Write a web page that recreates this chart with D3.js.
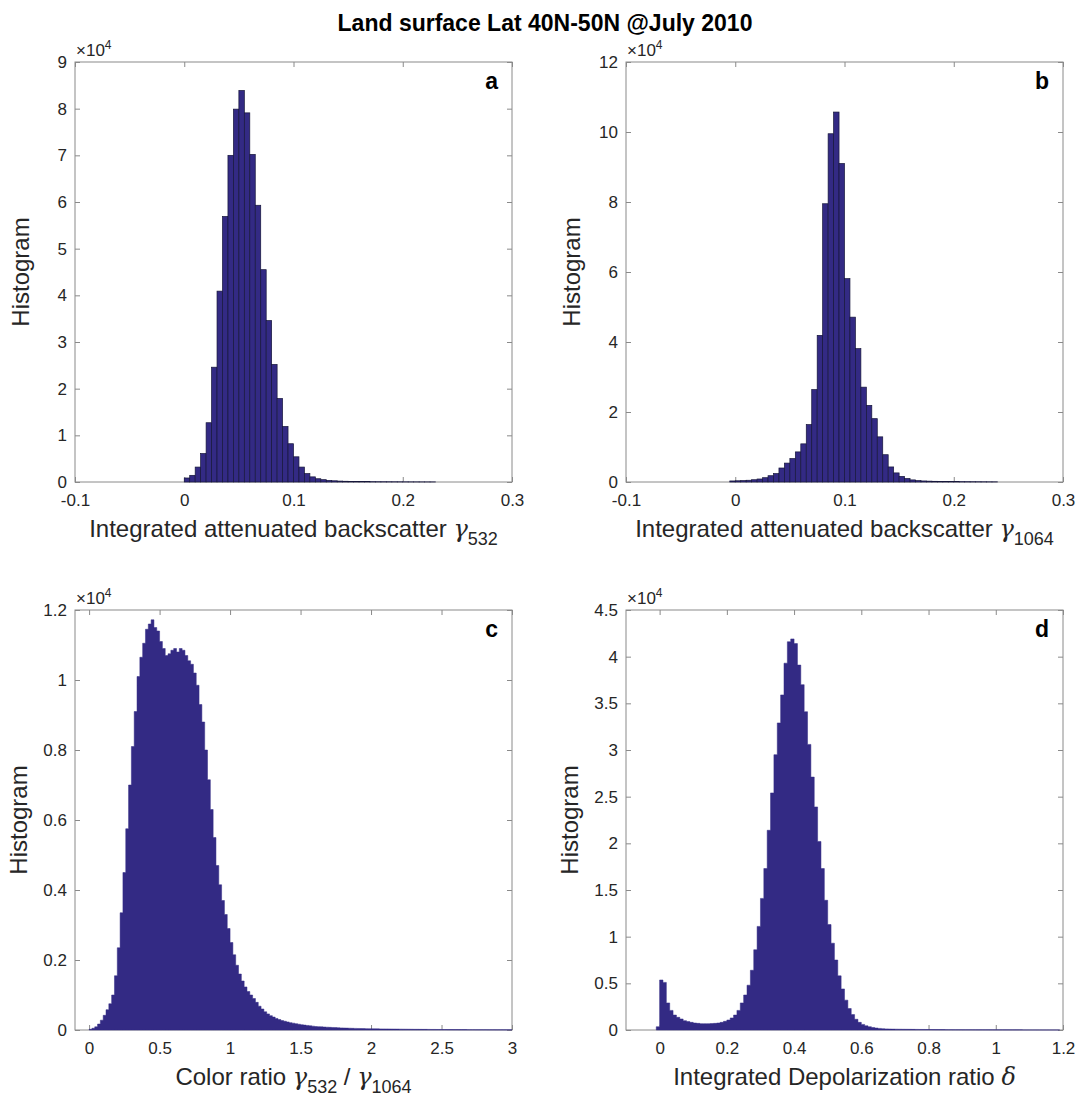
<!DOCTYPE html>
<html>
<head>
<meta charset="utf-8">
<script src="https://cdn.jsdelivr.net/npm/d3@7"></script>
<style>
  html, body { margin: 0; padding: 0; background: #fff; }
  svg { display: block; font-family: "Liberation Sans", Arial, Helvetica, sans-serif; }
</style>
</head>
<body>
<svg id="chart" width="1080" height="1097"></svg>
<script>
// ---------------- DATA ----------------
const titleText = "Land surface Lat 40N-50N @July 2010";

// Panel a : gamma 532 histogram (bin width 0.005)
const aBinStart = 0.0, aBinWidth = 0.005;
const aCounts = [860, 1430, 3200, 6100, 12700, 24600, 40900, 56900, 70000, 79900,
  83900, 79100, 70200, 59300, 45500, 34600, 25200, 17900, 11900, 8200,
  5400, 3200, 1800, 1100, 700, 500, 350, 260, 200, 160,
  130, 110, 95, 80, 70, 60, 55, 50, 45, 40, 35, 30, 28, 25, 22, 20];
const aXTicks = [-0.1, 0, 0.1, 0.2, 0.3];
const aXTickLabels = ["-0.1", "0", "0.1", "0.2", "0.3"];
const aYTicks = [0, 10000, 20000, 30000, 40000, 50000, 60000, 70000, 80000, 90000];
const aYTickLabels = ["0", "1", "2", "3", "4", "5", "6", "7", "8", "9"];

// Panel b : gamma 1064 histogram (bin width 0.005)
const bBinStart = -0.005, bBinWidth = 0.005;
const bCounts = [300, 350, 400, 500, 650, 860, 1230, 1800, 2400, 4000,
  5400, 6700, 8600, 10900, 16400, 26400, 41900, 79500, 99500, 105700,
  91000, 58100, 47100, 38100, 27100, 21900, 18100, 12900, 7800, 4300,
  2600, 1600, 1000, 600, 400, 300, 250, 200, 170, 150,
  130, 110, 100, 90, 80, 70, 60, 50, 45];
const bXTicks = [-0.1, 0, 0.1, 0.2, 0.3];
const bXTickLabels = ["-0.1", "0", "0.1", "0.2", "0.3"];
const bYTicks = [0, 20000, 40000, 60000, 80000, 100000, 120000];
const bYTickLabels = ["0", "2", "4", "6", "8", "10", "12"];

// Panel c : colour ratio histogram (bin width 0.02)
const cBinStart = 0.0, cBinWidth = 0.02;
const cCounts = [20, 50, 90, 170, 280, 420, 580, 750, 1000, 1550,
  2350, 3350, 4500, 5750, 7000, 8100, 9100, 10100, 10650, 11050,
  11450, 11600, 11720, 11500, 11400, 11100, 10900, 10700, 10750, 10850,
  10900, 10800, 10900, 10850, 10700, 10550, 10450, 10200, 9850, 9300,
  8800, 8000, 7150, 6300, 5500, 4700, 4150, 3700, 3300, 2900,
  2500, 2150, 1850, 1600, 1400, 1230, 1100, 1000, 900, 790,
  680, 600, 520, 460, 410, 370, 330, 300, 270, 250,
  230, 210, 195, 180, 165, 150, 140, 130, 120, 110,
  100, 95, 90, 85, 80, 76, 72, 68, 64, 60,
  57, 54, 51, 48, 46, 44, 42, 40, 38, 36,
  35, 34, 33, 32, 31, 30, 29, 28, 27, 26,
  25, 24, 23, 22, 21, 20, 20, 19, 18, 18,
  17, 16, 16, 15, 15, 14, 14, 13, 13, 12,
  12, 11, 11, 11, 10, 10, 10, 9, 9, 9,
  9, 8, 8, 8, 7, 7, 7, 6, 6, 6];
const cXTicks = [0, 0.5, 1, 1.5, 2, 2.5, 3];
const cXTickLabels = ["0", "0.5", "1", "1.5", "2", "2.5", "3"];
const cYTicks = [0, 2000, 4000, 6000, 8000, 10000, 12000];
const cYTickLabels = ["0", "0.2", "0.4", "0.6", "0.8", "1", "1.2"];

// Panel d : depolarization ratio histogram (bin width 0.01)
const dBinStart = -0.01, dBinWidth = 0.01;
const dCounts = [350, 5360, 5100, 2900, 2100, 1600, 1360, 1180, 1000, 900,
  820, 750, 710, 680, 680, 680, 690, 710, 750, 820,
  930, 1070, 1290, 1600, 2100, 2900, 3750, 4800, 6400, 8600,
  11100, 14100, 17300, 21400, 25400, 29500, 32900, 35900, 39300, 41600,
  41900, 41400, 39100, 37000, 34100, 30600, 27100, 23900, 20200, 17300,
  13900, 11300, 9300, 7500, 5800, 4400, 3200, 2300, 1650, 1150,
  820, 600, 450, 350, 270, 210, 170, 140, 120, 105,
  95, 90, 85, 80, 76, 72, 68, 64, 60, 57,
  54, 51, 48, 45, 43, 41, 39, 37, 35, 33,
  31, 30, 28, 27, 26, 25, 24, 23, 22, 21,
  20, 19, 18, 17, 16, 15, 15, 14, 14, 13,
  13, 12, 12, 11, 11, 10, 10, 10, 9, 9];
const dXTicks = [0, 0.2, 0.4, 0.6, 0.8, 1, 1.2];
const dXTickLabels = ["0", "0.2", "0.4", "0.6", "0.8", "1", "1.2"];
const dYTicks = [0, 5000, 10000, 15000, 20000, 25000, 30000, 35000, 40000, 45000];
const dYTickLabels = ["0", "0.5", "1", "1.5", "2", "2.5", "3", "3.5", "4", "4.5"];

// ---------------- LAYOUT / STYLE ----------------
const svg = d3.select("#chart");
const barFill = "#332a84";
const barEdge = "#16163a";
const axisColor = "#8a8a8a";
const textColor = "#262626";
const PW = 437, PH = 420;
const colX = [75, 626];
const rowY = [62, 610];

svg.append("text")
  .attr("x", 545).attr("y", 31)
  .attr("text-anchor", "middle")
  .attr("font-size", 23).attr("font-weight", "bold")
  .attr("fill", "#000")
  .text(titleText);

function makeBins(start, width, counts) {
  return counts.map((v, i) => ({ x0: start + i * width, x1: start + (i + 1) * width, v }));
}

function drawPanel(cfg) {
  const g = svg.append("g").attr("transform", `translate(${cfg.left},${cfg.top})`);
  const x = d3.scaleLinear().domain(cfg.xDomain).range([0, PW]);
  const y = d3.scaleLinear().domain([0, cfg.yMax]).range([PH, 0]);

  const styleAxis = sel => {
    sel.select(".domain").remove();
    sel.selectAll(".tick line").attr("stroke", axisColor);
    sel.selectAll(".tick text").attr("fill", textColor).attr("font-size", 17)
      .attr("font-family", "'Liberation Sans', Arial, sans-serif");
  };
  g.append("g").attr("transform", `translate(0,${PH})`)
    .call(d3.axisBottom(x).tickValues(cfg.xTicks).tickFormat((d, i) => cfg.xTickLabels[i])
      .tickSizeInner(-5).tickSizeOuter(0).tickPadding(12))
    .call(styleAxis);
  g.append("g")
    .call(d3.axisTop(x).tickValues(cfg.xTicks).tickFormat("").tickSizeInner(-5).tickSizeOuter(0))
    .call(styleAxis);
  g.append("g")
    .call(d3.axisLeft(y).tickValues(cfg.yTicks).tickFormat((d, i) => cfg.yTickLabels[i])
      .tickSizeInner(-5).tickSizeOuter(0).tickPadding(8))
    .call(styleAxis);
  g.append("g").attr("transform", `translate(${PW},0)`)
    .call(d3.axisRight(y).tickValues(cfg.yTicks).tickFormat("").tickSizeInner(-5).tickSizeOuter(0))
    .call(styleAxis);

  g.append("rect").attr("x", 0).attr("y", 0).attr("width", PW).attr("height", PH)
    .attr("fill", "none").attr("stroke", axisColor).attr("stroke-width", 1);

  const bins = makeBins(cfg.binStart, cfg.binWidth, cfg.counts);
  if (cfg.outlined) {
    g.append("g").selectAll("rect").data(bins).join("rect")
      .attr("x", d => x(d.x0)).attr("width", d => x(d.x1) - x(d.x0))
      .attr("y", d => y(d.v)).attr("height", d => y(0) - y(d.v))
      .attr("fill", barFill).attr("stroke", barEdge).attr("stroke-width", 0.7);
  } else {
    const pts = bins.map(d => ({ x: d.x0, v: d.v }));
    pts.push({ x: bins[bins.length - 1].x1, v: bins[bins.length - 1].v });
    const area = d3.area().x(d => x(d.x)).y0(y(0)).y1(d => y(d.v)).curve(d3.curveStepAfter);
    g.append("path").datum(pts).attr("d", area).attr("fill", barFill)
      .attr("stroke", barFill).attr("stroke-width", 0.5);
  }

  const ex = g.append("text").attr("x", 1).attr("y", -6)
    .attr("font-size", 17).attr("fill", textColor);
  ex.append("tspan").text("\u00d710");
  ex.append("tspan").attr("font-size", 12).attr("dy", -7).text("4");

  g.append("text").attr("x", PW - 14).attr("y", 27).attr("text-anchor", "end")
    .attr("font-size", 23).attr("font-weight", "bold").attr("fill", "#000")
    .text(cfg.letter);

  g.append("text")
    .attr("transform", `translate(${cfg.yLabelX},${PH / 2}) rotate(-90)`)
    .attr("text-anchor", "middle").attr("font-size", 24).attr("fill", textColor)
    .text("Histogram");

  const xl = g.append("text").attr("x", PW / 2).attr("y", PH + 55)
    .attr("text-anchor", "middle").attr("font-size", 24).attr("fill", textColor);
  cfg.xLabel(xl);
}

const greek = (t, s) => t.append("tspan")
  .attr("font-family", "'DejaVu Serif', 'Liberation Serif', serif")
  .attr("font-style", "italic").text(s);

drawPanel({
  left: colX[0], top: rowY[0], xDomain: [-0.1, 0.3], yMax: 90000,
  xTicks: aXTicks, xTickLabels: aXTickLabels, yTicks: aYTicks, yTickLabels: aYTickLabels,
  binStart: aBinStart, binWidth: aBinWidth, counts: aCounts, outlined: true,
  letter: "a", yLabelX: -46,
  xLabel: t => { t.append("tspan").text("Integrated attenuated backscatter "); greek(t, "\u03b3");
    t.append("tspan").attr("font-size", 18).attr("dy", 8).text("532"); }
});
drawPanel({
  left: colX[1], top: rowY[0], xDomain: [-0.1, 0.3], yMax: 120000,
  xTicks: bXTicks, xTickLabels: bXTickLabels, yTicks: bYTicks, yTickLabels: bYTickLabels,
  binStart: bBinStart, binWidth: bBinWidth, counts: bCounts, outlined: true,
  letter: "b", yLabelX: -46,
  xLabel: t => { t.append("tspan").text("Integrated attenuated backscatter "); greek(t, "\u03b3");
    t.append("tspan").attr("font-size", 18).attr("dy", 8).text("1064"); }
});
drawPanel({
  left: colX[0], top: rowY[1], xDomain: [-0.1, 3], yMax: 12000,
  xTicks: cXTicks, xTickLabels: cXTickLabels, yTicks: cYTicks, yTickLabels: cYTickLabels,
  binStart: cBinStart, binWidth: cBinWidth, counts: cCounts, outlined: false,
  letter: "c", yLabelX: -48,
  xLabel: t => { t.append("tspan").text("Color ratio "); greek(t, "\u03b3");
    t.append("tspan").attr("font-size", 18).attr("dy", 8).text("532");
    t.append("tspan").attr("dy", -8).text(" / "); greek(t, "\u03b3");
    t.append("tspan").attr("font-size", 18).attr("dy", 8).text("1064"); }
});
drawPanel({
  left: colX[1], top: rowY[1], xDomain: [-0.1, 1.2], yMax: 45000,
  xTicks: dXTicks, xTickLabels: dXTickLabels, yTicks: dYTicks, yTickLabels: dYTickLabels,
  binStart: dBinStart, binWidth: dBinWidth, counts: dCounts, outlined: false,
  letter: "d", yLabelX: -48,
  xLabel: t => { t.append("tspan").text("Integrated Depolarization ratio "); greek(t, "\u03b4"); }
});
</script>
</body>
</html>
